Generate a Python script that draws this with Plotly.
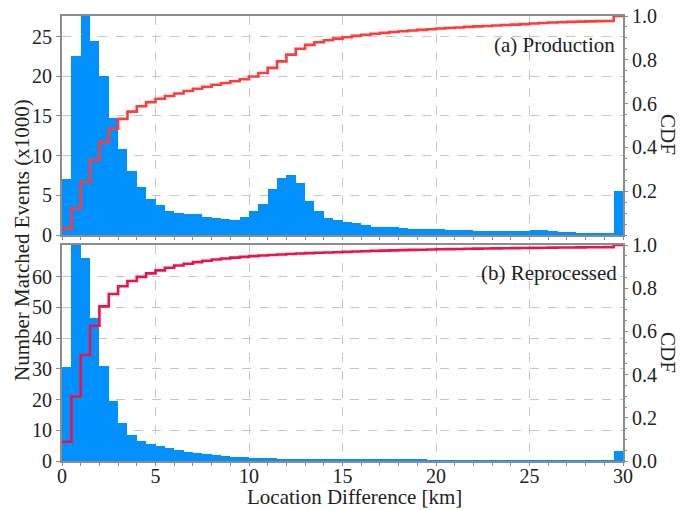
import plotly.graph_objects as go
import numpy as np

# ---- data (counts in thousands per 0.5 km bin, last bin = overflow) ----
bin_width = 0.5
bin_starts = [i * bin_width for i in range(60)]

production_counts = [
    7.1, 22.6, 29.5, 24.4, 20.0, 14.7, 10.9, 8.1, 6.0, 4.6,
    3.8, 3.05, 2.75, 2.7, 2.6, 2.25, 2.1, 2.0, 1.9, 2.25,
    3.05, 3.9, 5.75, 7.2, 7.55, 6.5, 4.3, 2.97, 2.17, 1.83,
    1.6, 1.5, 1.28, 1.07, 0.98, 0.95, 0.9, 0.78, 0.74, 0.74,
    0.7, 0.66, 0.6, 0.58, 0.55, 0.52, 0.5, 0.5, 0.52, 0.55,
    0.6, 0.6, 0.5, 0.4, 0.35, 0.3, 0.28, 0.25, 0.22, 5.5,
]

reprocessed_counts = [
    30.7, 72.0, 66.2, 46.7, 30.9, 19.6, 12.3, 8.47, 6.6, 5.5,
    4.9, 4.1, 3.5, 3.0, 2.5, 2.2, 1.9, 1.7, 1.4, 1.2,
    1.1, 1.0, 0.9, 0.8, 0.75, 0.7, 0.6, 0.55, 0.5, 0.45,
    0.6, 0.55, 0.5, 0.47, 0.44, 0.41, 0.38, 0.36, 0.34, 0.32,
    0.3, 0.28, 0.27, 0.25, 0.24, 0.23, 0.22, 0.21, 0.2, 0.19,
    0.18, 0.17, 0.16, 0.16, 0.15, 0.14, 0.14, 0.13, 0.13, 3.4,
]

x_tick_vals = [0, 5, 10, 15, 20, 25, 30]
top_left_ticks = [0, 5, 10, 15, 20, 25]
bottom_left_ticks = [0, 10, 20, 30, 40, 50, 60]
top_cdf_ticks = [0.2, 0.4, 0.6, 0.8, 1.0]
bottom_cdf_ticks = [0.0, 0.2, 0.4, 0.6, 0.8, 1.0]

BLUE = "#0090FF"
RED_TOP = "#FF3B3B"
RED_BOT = "#F0104A"
AX = "#8c8c8c"
GRID = "#c6c6c6"
FONT = "'Liberation Serif', 'Times New Roman', 'DejaVu Serif', serif"
TXT = "#222"
TICK_SIZE = 20
TITLE_SIZE = 21

centers = [s + bin_width / 2 for s in bin_starts]


def cdf_xy(counts):
    c = np.cumsum(counts) / np.sum(counts)
    xs = list(bin_starts) + [bin_starts[-1] + bin_width]
    ys = list(c) + [c[-1]]
    return xs, ys


fig = go.Figure()

fig.add_trace(go.Bar(x=centers, y=production_counts, width=bin_width,
                     marker=dict(color=BLUE, line=dict(width=0)),
                     xaxis="x", yaxis="y", showlegend=False))
cx, cy = cdf_xy(production_counts)
fig.add_trace(go.Scatter(x=cx, y=cy, mode="lines", line=dict(color=RED_TOP, width=2.6, shape="hv"),
                         xaxis="x", yaxis="y3", showlegend=False))

fig.add_trace(go.Bar(x=centers, y=reprocessed_counts, width=bin_width,
                     marker=dict(color=BLUE, line=dict(width=0)),
                     xaxis="x2", yaxis="y2", showlegend=False))
cx, cy = cdf_xy(reprocessed_counts)
fig.add_trace(go.Scatter(x=cx, y=cy, mode="lines", line=dict(color=RED_BOT, width=2.6, shape="hv"),
                         xaxis="x2", yaxis="y4", showlegend=False))

tickfont = dict(family=FONT, size=TICK_SIZE, color=TXT)
common_x = dict(range=[0, 30], showline=True, linecolor=AX, linewidth=2, mirror=True,
                showgrid=True, gridcolor=GRID, griddash="dash", gridwidth=1,
                tickvals=x_tick_vals, ticks="outside", ticklen=3, tickcolor=AX,
                minor=dict(dtick=1, ticks="outside", ticklen=3, tickcolor=AX, showgrid=False),
                zeroline=False, tickfont=tickfont, automargin=False, ticklabeloverflow="allow")
common_y = dict(showline=True, linecolor=AX, linewidth=2, mirror=True,
                showgrid=True, gridcolor=GRID, griddash="dash", gridwidth=1,
                ticks="outside", ticklen=4, tickcolor=AX, zeroline=False,
                tickfont=tickfont, automargin=False, ticklabeloverflow="allow")
common_cdf = dict(side="right", range=[0, 1], showgrid=False, zeroline=False,
                  ticks="outside", ticklen=4, tickcolor=AX, tickformat=".1f",
                  minor=dict(dtick=0.05, ticks="outside", ticklen=3, tickcolor=AX),
                  showline=False, tickfont=tickfont, automargin=False, ticklabeloverflow="allow")

top_dom = [(445 - 219) / 445, 1]
bot_dom = [0, 216 / 445]

titlefont = dict(family=FONT, size=TITLE_SIZE, color=TXT)

fig.update_layout(
    width=681, height=510,
    margin=dict(l=62, r=58, t=16, b=49, autoexpand=False),
    paper_bgcolor="white", plot_bgcolor="white",
    bargap=0,
    font=dict(family=FONT, size=TICK_SIZE, color=TXT),
    xaxis=dict(common_x, anchor="y", showticklabels=False),
    yaxis=dict(common_y, domain=top_dom, range=[0, 27.6], tickvals=top_left_ticks, anchor="x"),
    yaxis3=dict(common_cdf, overlaying="y", anchor="x", tickvals=top_cdf_ticks),
    xaxis2=dict(common_x, anchor="y2", matches="x", ticklabelstandoff=-7),
    yaxis2=dict(common_y, domain=bot_dom, range=[0, 70.3], tickvals=bottom_left_ticks, anchor="x2"),
    yaxis4=dict(common_cdf, overlaying="y2", anchor="x2", tickvals=bottom_cdf_ticks),
    annotations=[
        dict(text="Location Difference [km]", xref="paper", yref="paper",
             x=(354 - 62) / 561, y=(461 - 497) / 445, xanchor="center", yanchor="middle",
             showarrow=False, font=titlefont),
        dict(text="Number Matched Events (x1000)", textangle=-90, xref="paper", yref="paper",
             x=-40 / 561, y=(461 - 240) / 445, xanchor="center", yanchor="middle", showarrow=False,
             font=titlefont),
        dict(text="CDF", textangle=90, xref="paper", yref="paper",
             x=(668 - 62) / 561, y=(461 - 134) / 445, xanchor="center", yanchor="middle",
             showarrow=False, font=titlefont),
        dict(text="CDF", textangle=90, xref="paper", yref="paper",
             x=(668 - 62) / 561, y=(461 - 352) / 445, xanchor="center", yanchor="middle",
             showarrow=False, font=titlefont),
        dict(text="(a) Production", xref="paper", yref="paper",
             x=(617 - 62) / 561, y=(461 - 45) / 445, xanchor="right", yanchor="middle",
             showarrow=False, font=titlefont),
        dict(text="(b) Reprocessed", xref="paper", yref="paper",
             x=(619 - 62) / 561, y=(461 - 273) / 445, xanchor="right", yanchor="middle",
             showarrow=False, font=titlefont),
    ],
)

# remove the page's default 8px body margin so the figure fills the window exactly
fig.write_html("out.html", config={"displayModeBar": False},
               post_script="document.body.style.margin='0';")
